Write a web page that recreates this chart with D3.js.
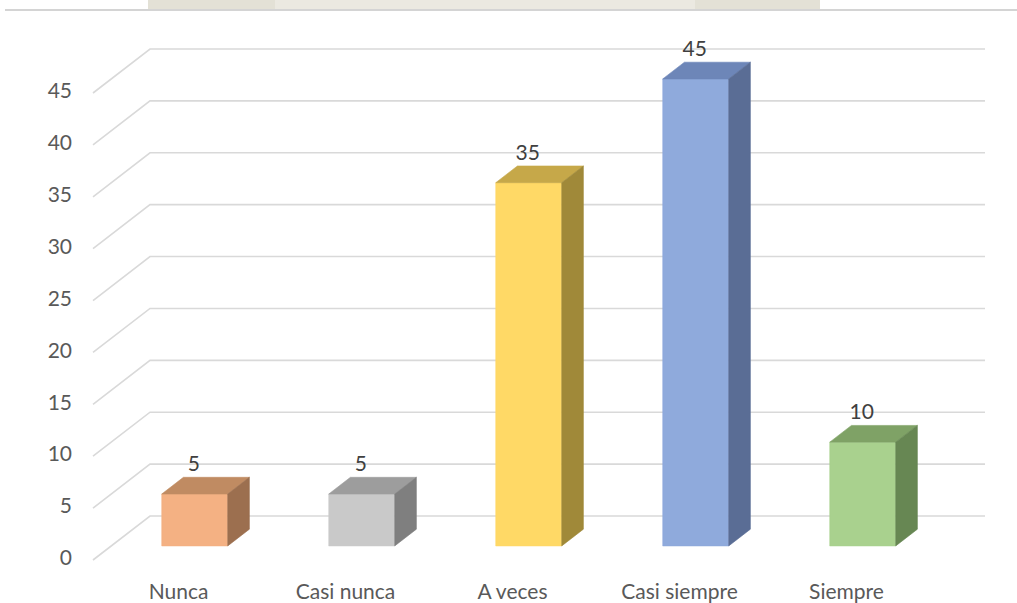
<!DOCTYPE html>
<html>
<head>
<meta charset="utf-8">
<script src="https://cdn.jsdelivr.net/npm/d3@7"></script>
<style>
  body { margin: 0; background: #fff; }
  svg text { font-family: Lato, "Open Sans", sans-serif; }
</style>
</head>
<body>
<div id="chart"></div>
<script>
// data
const categories = ["Nunca", "Casi nunca", "A veces", "Casi siempre", "Siempre"];
const values = [5, 5, 35, 45, 10];
const yTicks = [0, 5, 10, 15, 20, 25, 30, 35, 40, 45];
const frontColors = ["#f4b183", "#c9c9c9", "#ffd966", "#8faadc", "#a9d18e"];
const topColors = ["#c08b62", "#9d9d9d", "#c6a849", "#6d86b8", "#7fa266"];
const sideColors = ["#9c6f4f", "#7f7f7f", "#a08939", "#5a6d95", "#678753"];

const W = 1017, H = 603;
// oblique projection: floor front-left corner, depth offset of the walls
const ORIGIN = { x: 93, y: 560 };
const DEPTH = { dx: 57, dy: -44 };
const FLOOR_W = 835;
const BAR_D0 = 0.32, BAR_D1 = 0.70;   // bar depth, as part of the floor depth

const svg = d3.select("#chart").append("svg")
    .attr("width", W)
    .attr("height", H);

const x = d3.scaleBand().domain(categories).range([0, FLOOR_W]);
const v = d3.scaleLinear().domain([0, 45]).range([0, 467]);

// (category offset, value, depth) -> screen point
function proj(u, val, d){
    return [ORIGIN.x + u + d * DEPTH.dx, ORIGIN.y - v(val) + d * DEPTH.dy];
}

// faint header strip from the source page
svg.append("rect").attr("x", 148).attr("y", 0).attr("width", 672).attr("height", 9).attr("fill", "#e3e1d6");
svg.append("rect").attr("x", 275).attr("y", 0).attr("width", 420).attr("height", 9).attr("fill", "#ebe9e1");
svg.append("line")
    .attr("x1", 5).attr("x2", W).attr("y1", 10).attr("y2", 10)
    .attr("stroke", "#d4d4d4").attr("stroke-width", 2);

// gridlines: left wall diagonal + back wall horizontal
const grid = svg.append("g");
yTicks.forEach(t => {
    const pts = [proj(0, t, 0), proj(0, t, 1), proj(FLOOR_W, t, 1)];
    grid.append("path")
        .attr("d", d3.line()(pts))
        .attr("fill", "none")
        .attr("stroke", "#d9d9d9")
        .attr("stroke-width", 1.6);
});

// y axis labels at the front edge
const yFront = d3.scaleLinear().domain([0, 45]).range([ORIGIN.y, ORIGIN.y - v(45)]);
svg.append("g")
    .attr("transform", "translate(80,-2)")
    .call(d3.axisLeft(yFront).tickValues(yTicks).tickSize(0).tickPadding(8))
    .call(g => g.select(".domain").remove())
    .selectAll("text")
    .attr("font-size", 21)
    .attr("font-family", "Lato, sans-serif")
    .attr("fill", "#595959");

// category labels
const xFront = d3.scaleBand().domain(categories).range([ORIGIN.x, ORIGIN.x + FLOOR_W]);
svg.append("g")
    .attr("transform", "translate(2,576)")
    .call(d3.axisBottom(xFront).tickSize(0).tickPadding(8))
    .call(g => g.select(".domain").remove())
    .selectAll("text")
    .attr("font-size", 21)
    .attr("font-family", "Lato, sans-serif")
    .attr("fill", "#595959");

// bars
const barW = x.bandwidth() * 0.395;
const bars = svg.append("g");
categories.forEach((c, i) => {
    const u0 = x(c) + (x.bandwidth() - barW) / 2;
    const u1 = u0 + barW;
    const val = values[i];
    const g = bars.append("g");
    const poly = (pts, fill) => g.append("path")
        .attr("d", d3.line()(pts) + "Z")
        .attr("fill", fill)
        .attr("stroke", fill)
        .attr("stroke-width", 0.6)
        .attr("stroke-linejoin", "round");
    // front face
    poly([proj(u0, 0, BAR_D0), proj(u1, 0, BAR_D0), proj(u1, val, BAR_D0), proj(u0, val, BAR_D0)], frontColors[i]);
    // top face
    poly([proj(u0, val, BAR_D0), proj(u1, val, BAR_D0), proj(u1, val, BAR_D1), proj(u0, val, BAR_D1)], topColors[i]);
    // side face
    poly([proj(u1, 0, BAR_D0), proj(u1, 0, BAR_D1), proj(u1, val, BAR_D1), proj(u1, val, BAR_D0)], sideColors[i]);

    // value label
    const top = proj((u0 + u1) / 2, val, BAR_D1);
    const front = proj((u0 + u1) / 2, val, BAR_D0);
    g.append("text")
        .attr("x", front[0] - 1)
        .attr("y", top[1] - 6)
        .attr("text-anchor", "middle")
        .attr("font-size", 21)
        .attr("fill", "#404040")
        .text(val);
});
</script>
</body>
</html>
